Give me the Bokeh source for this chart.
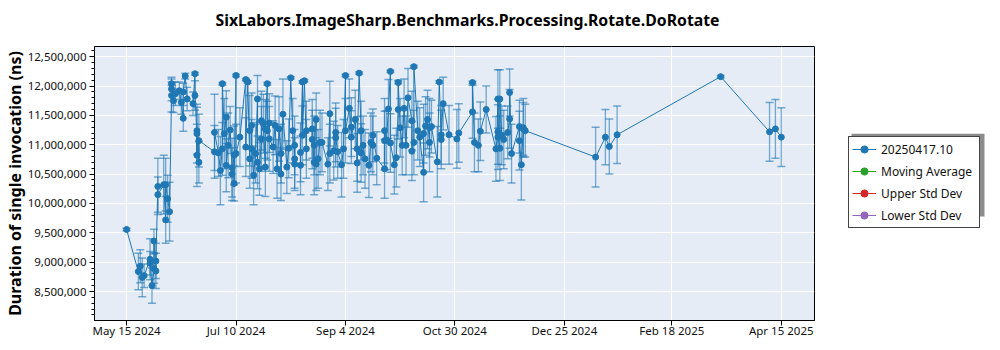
import datetime as dt
import pandas as pd
from bokeh.plotting import figure
from bokeh.layouts import row, column
from bokeh.core.properties import value
from bokeh.models import (ColumnDataSource, Range1d, Whisker, TeeHead, Legend, LegendItem,
                          FixedTicker, SingleIntervalTicker, DatetimeTickFormatter,
                          NumeralTickFormatter, BoxAnnotation)
from bokeh.embed import file_html
from bokeh.resources import INLINE

TITLE = "SixLabors.ImageSharp.Benchmarks.Processing.Rotate.DoRotate"
Y_LABEL = "Duration of single invocation (ns)"
SERIES = ["20250417.10", "Moving Average", "Upper Std Dev", "Lower Std Dev"]
SERIES_COLORS = ["#1f77b4", "#2ca02c", "#d62728", "#9467bd"]

# run dates
dates = [
    "2024-05-15", "2024-05-21", "2024-05-22", "2024-05-23", "2024-05-24", "2024-05-27", "2024-05-27",
    "2024-05-28", "2024-05-29", "2024-05-29", "2024-05-30", "2024-05-30", "2024-05-31", "2024-05-31",
    "2024-06-03", "2024-06-04", "2024-06-04", "2024-06-05", "2024-06-06", "2024-06-07", "2024-06-07",
    "2024-06-07", "2024-06-08", "2024-06-09", "2024-06-11", "2024-06-12", "2024-06-13", "2024-06-13",
    "2024-06-14", "2024-06-15", "2024-06-18", "2024-06-19", "2024-06-19", "2024-06-20", "2024-06-20",
    "2024-06-20", "2024-06-21", "2024-06-21", "2024-06-29", "2024-06-29", "2024-07-01", "2024-07-02",
    "2024-07-03", "2024-07-03", "2024-07-04", "2024-07-05", "2024-07-05", "2024-07-06", "2024-07-07",
    "2024-07-08", "2024-07-08", "2024-07-09", "2024-07-09", "2024-07-10", "2024-07-10", "2024-07-12",
    "2024-07-15", "2024-07-15", "2024-07-16", "2024-07-17", "2024-07-17", "2024-07-18", "2024-07-18",
    "2024-07-19", "2024-07-20", "2024-07-21", "2024-07-21", "2024-07-22", "2024-07-23", "2024-07-23",
    "2024-07-24", "2024-07-25", "2024-07-25", "2024-07-26", "2024-07-26", "2024-07-27", "2024-07-27",
    "2024-07-29", "2024-07-30", "2024-07-31", "2024-08-01", "2024-08-02", "2024-08-02", "2024-08-03",
    "2024-08-05", "2024-08-06", "2024-08-07", "2024-08-08", "2024-08-09", "2024-08-09", "2024-08-09",
    "2024-08-12", "2024-08-12", "2024-08-13", "2024-08-13", "2024-08-14", "2024-08-15", "2024-08-15",
    "2024-08-18", "2024-08-18", "2024-08-19", "2024-08-19", "2024-08-20", "2024-08-20", "2024-08-21",
    "2024-08-22", "2024-08-23", "2024-08-26", "2024-08-27", "2024-08-27", "2024-08-29", "2024-08-30",
    "2024-08-30", "2024-08-31", "2024-09-02", "2024-09-03", "2024-09-04", "2024-09-04", "2024-09-06",
    "2024-09-07", "2024-09-07", "2024-09-09", "2024-09-10", "2024-09-10", "2024-09-11", "2024-09-12",
    "2024-09-12", "2024-09-13", "2024-09-14", "2024-09-16", "2024-09-17", "2024-09-18", "2024-09-18",
    "2024-09-20", "2024-09-24", "2024-09-24", "2024-09-24", "2024-09-25", "2024-09-26", "2024-09-27",
    "2024-09-27", "2024-09-29", "2024-09-30", "2024-10-01", "2024-10-01", "2024-10-02", "2024-10-03",
    "2024-10-04", "2024-10-05", "2024-10-06", "2024-10-08", "2024-10-08", "2024-10-09", "2024-10-09",
    "2024-10-11", "2024-10-12", "2024-10-14", "2024-10-14", "2024-10-15", "2024-10-16", "2024-10-17",
    "2024-10-17", "2024-10-18", "2024-10-21", "2024-10-22", "2024-10-23", "2024-10-23", "2024-10-24",
    "2024-10-27", "2024-10-31", "2024-11-01", "2024-11-08", "2024-11-08", "2024-11-09", "2024-11-11",
    "2024-11-12", "2024-11-15", "2024-11-20", "2024-11-21", "2024-11-21", "2024-11-21", "2024-11-22",
    "2024-11-22", "2024-11-23", "2024-11-24", "2024-11-26", "2024-11-27", "2024-11-27", "2024-11-28",
    "2024-12-02", "2024-12-02", "2024-12-03", "2024-12-04", "2024-12-04", "2024-12-05",
    "2025-01-10", "2025-01-15", "2025-01-17", "2025-01-21", "2025-03-15", "2025-04-09", "2025-04-12",
    "2025-04-15",
]

# mean duration, millions of ns
mean_mns = [
    9.556, 8.84, 8.93, 8.74, 8.77, 9.05, 8.98,
    8.60, 8.89, 9.36, 8.85, 9.02, 10.29, 10.15,
    10.32, 9.72, 10.32, 10.08, 9.86, 11.84, 11.95,
    12.04, 11.75, 11.87, 11.92, 11.72, 11.45, 11.90,
    12.17, 11.78, 11.70, 12.21, 11.84, 11.19, 10.82,
    11.24, 10.70, 11.07, 10.88, 11.21, 10.86, 10.56,
    10.93, 12.04, 11.19, 11.47, 10.65, 10.99, 11.25,
    10.61, 10.50, 10.82, 10.34, 12.18, 10.85, 11.13,
    12.11, 10.96, 12.07, 10.76, 11.24, 11.33, 10.93,
    10.48, 10.85, 11.78, 10.70, 10.59, 11.10, 11.41,
    11.36, 10.62, 11.27, 12.04, 11.24, 11.37, 11.10,
    10.96, 11.33, 10.59, 11.27, 10.85, 10.50, 11.52,
    10.62, 10.94, 12.14, 11.24, 10.76, 10.99, 10.67,
    10.65, 10.87, 12.07, 11.16, 12.09, 10.93, 11.24,
    11.27, 11.09, 10.70, 10.99, 11.43, 10.67, 10.76,
    11.04, 11.04, 10.67, 11.53, 10.85, 10.90, 11.21,
    11.12, 10.88, 10.66, 10.93, 12.18, 11.24, 11.62,
    11.30, 11.13, 11.43, 10.69, 10.93, 12.22, 11.24,
    10.86, 10.99, 10.76, 10.65, 11.04, 10.99, 11.16,
    10.77, 10.59, 11.07, 11.24, 11.08, 11.61, 12.25,
    11.03, 10.66, 10.78, 11.60, 12.06, 11.29, 10.99,
    11.62, 10.99, 11.80, 11.41, 10.89, 11.04, 12.33,
    11.24, 11.13, 10.53, 11.19, 11.32, 11.43, 11.04,
    11.29, 11.31, 10.71, 12.07, 11.09, 11.17, 11.70,
    11.17, 11.10, 11.20, 11.56, 12.06, 11.04, 10.99,
    11.23, 11.60, 10.93, 11.22, 11.78, 11.13, 10.94,
    11.78, 11.16, 11.09, 11.21, 11.44, 11.89, 10.85,
    11.31, 11.07, 10.66, 11.29, 11.27, 11.24,
    10.79, 11.13, 10.97, 11.17, 12.16, 11.22, 11.27,
    11.13,
]

# standard deviation, millions of ns
std_mns = [
    0.02, 0.31, 0.28, 0.33, 0.20, 0.35, 0.20,
    0.30, 0.25, 0.20, 0.30, 0.30, 0.48, 0.30,
    0.50, 0.40, 0.45, 0.40, 0.50, 0.28, 0.20,
    0.03, 0.20, 0.20, 0.15, 0.20, 0.22, 0.15,
    0.05, 0.20, 0.20, 0.02, 0.25, 0.50, 0.53,
    0.40, 0.35, 0.45, 0.45, 0.65, 0.40, 0.58,
    0.45, 0.02, 0.60, 0.45, 0.45, 0.55, 0.40,
    0.50, 0.45, 0.50, 0.30, 0.02, 0.50, 0.50,
    0.02, 0.50, 0.02, 0.50, 0.60, 0.55, 0.50,
    0.50, 0.50, 0.40, 0.45, 0.45, 0.55, 0.50,
    0.50, 0.50, 0.50, 0.02, 0.50, 0.50, 0.55,
    0.45, 0.50, 0.50, 0.55, 0.50, 0.45, 0.60,
    0.45, 0.50, 0.02, 0.55, 0.50, 0.50, 0.45,
    0.50, 0.50, 0.02, 0.50, 0.02, 0.50, 0.50,
    0.50, 0.50, 0.55, 0.50, 0.45, 0.45, 0.50,
    0.55, 0.50, 0.45, 0.55, 0.50, 0.50, 0.50,
    0.50, 0.45, 0.55, 0.50, 0.02, 0.55, 0.50,
    0.50, 0.45, 0.50, 0.50, 0.55, 0.02, 0.50,
    0.50, 0.50, 0.50, 0.55, 0.50, 0.50, 0.45,
    0.45, 0.50, 0.50, 0.55, 0.50, 0.50, 0.02,
    0.50, 0.50, 0.50, 0.50, 0.02, 0.50, 0.50,
    0.50, 0.50, 0.50, 0.50, 0.50, 0.55, 0.02,
    0.50, 0.50, 0.50, 0.50, 0.50, 0.50, 0.50,
    0.50, 0.45, 0.60, 0.02, 0.50, 0.50, 0.45,
    0.50, 0.50, 0.50, 0.45, 0.02, 0.50, 0.45,
    0.50, 0.40, 0.55, 0.55, 0.50, 0.55, 0.55,
    0.50, 0.50, 0.50, 0.45, 0.50, 0.40, 0.50,
    0.45, 0.50, 0.60, 0.50, 0.45, 0.45,
    0.51, 0.47, 0.47, 0.49, 0.02, 0.50, 0.50,
    0.50,
]

x_tick_dates = ["2024-05-15", "2024-07-10", "2024-09-04", "2024-10-30",
                "2024-12-25", "2025-02-18", "2025-04-15"]

BLUE = SERIES_COLORS[0]
FONT = "Noto Sans"

x = pd.to_datetime(dates)
mean = [v * 1_000_000 for v in mean_mns]
std = [s * 1_000_000 for s in std_mns]
src = ColumnDataSource(dict(
    x=x, y=mean,
    upper=[m + s for m, s in zip(mean, std)],
    lower=[m - s for m, s in zip(mean, std)],
))

# ---- title strip ----
TH = 42
tf = figure(
    width=1000, height=TH, output_backend="svg", toolbar_location=None,
    x_range=Range1d(0, 1000), y_range=Range1d(0, TH),
    min_border=0, x_axis_location=None, y_axis_location=None,
    outline_line_color=None, background_fill_color="white", border_fill_color="white",
)
tf.xgrid.visible = False
tf.ygrid.visible = False
tf.text(x=[467], y=[TH - 19], text=[TITLE], text_align="center", text_baseline="alphabetic",
        text_font=value(FONT), text_font_size="15.8px", text_font_style="bold",
        text_color="black")

# ---- main plot ----
PH = 350 - TH
p = figure(
    width=840, height=PH, x_axis_type="datetime",
    output_backend="svg", toolbar_location=None,
    x_range=Range1d(dt.datetime(2024, 4, 28, 14), dt.datetime(2025, 5, 2, 0)),
    y_range=Range1d(8_006_000, 12_674_000),
    min_border_left=93, min_border_right=26, min_border_top=46 - TH, min_border_bottom=30,
    background_fill_color="#e5ecf6", border_fill_color="white",
)

p.outline_line_color = "black"
p.outline_line_width = 1
p.outline_line_alpha = 1

p.grid.grid_line_color = "white"
p.grid.grid_line_width = 1

# error bars
whisker = Whisker(
    base="x", upper="upper", lower="lower", source=src,
    line_color=BLUE, line_alpha=0.6, line_width=1.3,
    upper_head=TeeHead(size=8, line_color=BLUE, line_alpha=0.6, line_width=1.5),
    lower_head=TeeHead(size=8, line_color=BLUE, line_alpha=0.6, line_width=1.5),
)
p.add_layout(whisker)

p.line("x", "y", source=src, line_color=BLUE, line_width=1)
p.scatter("x", "y", source=src, size=6, color=BLUE)

# axes
p.yaxis.axis_label = Y_LABEL
p.yaxis.axis_label_text_font = FONT
p.yaxis.axis_label_text_font_size = "16px"
p.yaxis.axis_label_text_font_style = "bold"
p.yaxis.axis_label_text_color = "black"
p.yaxis.axis_label_standoff = -1
p.yaxis.ticker = SingleIntervalTicker(interval=500_000, num_minor_ticks=5)
p.yaxis.formatter = NumeralTickFormatter(format="0,0")
p.yaxis.major_tick_out = 5
p.yaxis.major_tick_in = 0
p.yaxis.minor_tick_out = 3
p.yaxis.minor_tick_in = 0
p.yaxis.major_label_standoff = 3

p.xaxis.ticker = FixedTicker(ticks=[pd.Timestamp(d).value // 10**6 for d in x_tick_dates])
fmt = "%b %-d %Y"
p.xaxis.formatter = DatetimeTickFormatter(
    microseconds=fmt, milliseconds=fmt, seconds=fmt, minsec=fmt, minutes=fmt,
    hourmin=fmt, hours=fmt, days=fmt, months=fmt, years=fmt, context=None)
p.xaxis.major_tick_out = 5
p.xaxis.major_tick_in = 0
p.xaxis.minor_tick_line_color = None
p.xaxis.major_label_standoff = -3

for ax in (p.xaxis, p.yaxis):
    ax.axis_line_color = "black"
    ax.major_tick_line_color = "black"
    ax.major_label_text_font = FONT
    ax.major_label_text_font_size = "11.5px"
    ax.major_label_text_color = "#111111"
p.yaxis.minor_tick_line_color = "black"

# ---- legend panel (separate figure to the right) ----
lf = figure(
    width=160, height=PH, output_backend="svg", toolbar_location=None,
    x_range=Range1d(0, 160), y_range=Range1d(0, PH),
    min_border=0, x_axis_location=None, y_axis_location=None,
    outline_line_color=None, background_fill_color="white", border_fill_color="white",
)
lf.xgrid.visible = False
lf.ygrid.visible = False

shadow = BoxAnnotation(left=11, right=144, top=210, bottom=117,
                       fill_color="#8c8c8c", fill_alpha=1, line_color=None)
lf.add_layout(shadow)

NAN = float("nan")
items = []
for name, col in zip(SERIES, SERIES_COLORS):
    lr = lf.line(x=[NAN, NAN], y=[NAN, NAN], line_color=col, line_width=1)
    sr = lf.scatter(x=[NAN], y=[NAN], size=5.5, color=col)
    items.append(LegendItem(label=name, renderers=[lr, sr]))

legend = Legend(
    items=items, location=(8, 92), orientation="vertical",
    border_line_color="#444444", border_line_width=1, border_line_alpha=1,
    background_fill_color="white", background_fill_alpha=1,
    label_text_font=FONT, label_text_font_size="12px", label_text_color="#111111",
    glyph_width=24, glyph_height=18, label_height=18, label_width=95,
    spacing=4, padding=3, margin=0, label_standoff=5,
)
lf.add_layout(legend)

layout = column(tf, row(p, lf, spacing=0), spacing=0)
open("out.html", "w").write(file_html(layout, INLINE))
